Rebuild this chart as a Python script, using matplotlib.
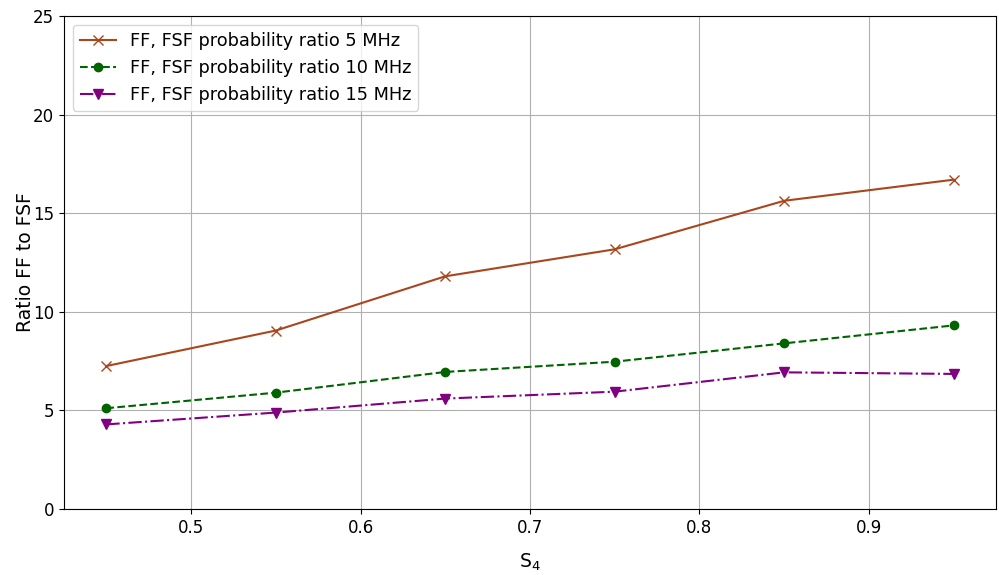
import matplotlib
matplotlib.use("Agg")
import matplotlib.pyplot as plt

s4 = [0.45, 0.55, 0.65, 0.75, 0.85, 0.95]
ratio_5mhz = [7.25, 9.05, 11.80, 13.17, 15.63, 16.70]
ratio_10mhz = [5.11, 5.90, 6.95, 7.47, 8.40, 9.31]
ratio_15mhz = [4.29, 4.89, 5.60, 5.95, 6.93, 6.85]
labels = ["FF, FSF probability ratio 5 MHz",
          "FF, FSF probability ratio 10 MHz",
          "FF, FSF probability ratio 15 MHz"]

fig = plt.figure(figsize=(9.99, 5.75), dpi=100)
ax = fig.add_axes([64/999, 1-509/575, (996-64)/999, (509-16)/575])

ax.plot(s4, ratio_5mhz, color="#a8461e", linestyle="-", marker="x", markersize=7, linewidth=1.5, label=labels[0])
ax.plot(s4, ratio_10mhz, color="#006400", linestyle="--", marker="o", markersize=6, linewidth=1.5, label=labels[1])
ax.plot(s4, ratio_15mhz, color="#800080", linestyle="-.", marker="v", markersize=6.5, linewidth=1.5, label=labels[2])

ax.set_ylim(0, 25)
ax.set_yticks([0, 5, 10, 15, 20, 25])
ax.grid(True, color="#b0b0b0", linewidth=0.8)
ax.tick_params(labelsize=12)
ax.set_xlabel("S$_4$", fontsize=13.5, labelpad=11)
ax.set_ylabel("Ratio FF to FSF", fontsize=13.5, labelpad=-1)
ax.legend(loc="upper left", fontsize=12.8, handlelength=2.0)

fig.savefig("out.png", dpi=100)
